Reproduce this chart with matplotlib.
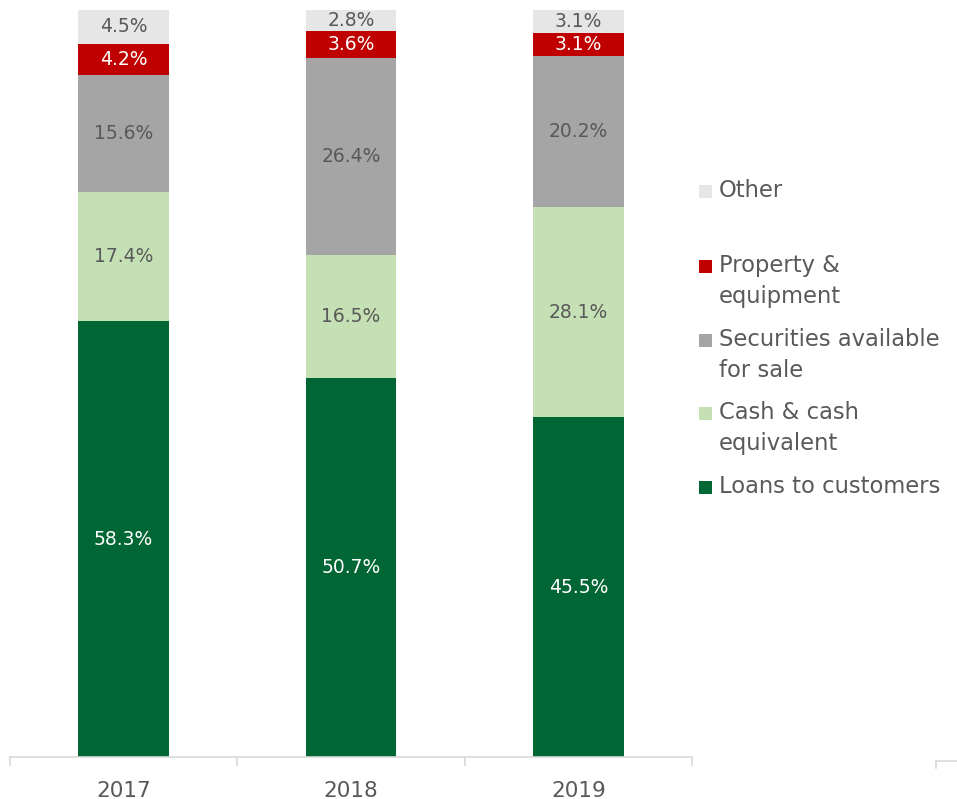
import matplotlib
matplotlib.use("Agg")
import matplotlib.pyplot as plt
from matplotlib.patches import Rectangle
from matplotlib.lines import Line2D
import numpy as np

plt.rcParams['font.family'] = ['DejaVu Sans']

years = ["2017", "2018", "2019"]
series_names = ["Loans to customers", "Cash & cash\nequivalent", "Securities available\nfor sale",
                "Property &\nequipment", "Other"]
loans = [58.3, 50.7, 45.5]
cash = [17.4, 16.5, 28.1]
securities = [15.6, 26.4, 20.2]
property_eq = [4.2, 3.6, 3.1]
other = [4.5, 2.8, 3.1]
series_values = [loans, cash, securities, property_eq, other]
colors = ["#006633", "#C5E0B4", "#A5A5A5", "#C00000", "#E7E6E6"]
text_colors = ["white", "#595959", "#595959", "white", "#595959"]

W, H = 957, 799
fig = plt.figure(figsize=(W / 100, H / 100), dpi=100)
ax = fig.add_axes([10 / W, (H - 757) / H, (692 - 10) / W, (757 - 10) / H])

x = np.arange(len(years))
bottom = np.zeros(len(years))
for vals, col, tcol in zip(series_values, colors, text_colors):
    vals = np.array(vals)
    ax.bar(x, vals, width=0.4, bottom=bottom, color=col, edgecolor='none')
    for xi, b, v in zip(x, bottom, vals):
        ax.text(xi, b + v / 2, f"{v:.1f}%", ha='center', va='center',
                fontsize=13.5, color=tcol)
    bottom += vals

ax.set_xlim(-0.5, len(years) - 0.5)
ax.set_ylim(0, 100)
ax.set_yticks([])
for s in ['top', 'right', 'left']:
    ax.spines[s].set_visible(False)
ax.spines['bottom'].set_color('#D9D9D9')
ax.spines['bottom'].set_linewidth(1.2)
ax.set_xticks(x)
ax.set_xticklabels(years, fontsize=15.5, color='#595959')
ax.tick_params(axis='x', which='major', length=0, pad=17)
ax.set_xticks(np.arange(-0.5, len(years), 1.0), minor=True)
ax.tick_params(axis='x', which='minor', length=6.5, color='#D9D9D9', width=1.2)

# Manual legend (reverse order, top = Other)
legend_y = {"Other": 191, "Property &\nequipment": 266, "Securities available\nfor sale": 340,
            "Cash & cash\nequivalent": 413, "Loans to customers": 487}
for name, col in zip(series_names, colors):
    yc = legend_y[name]
    fig.patches.append(Rectangle((699 / W, (H - yc - 6.5) / H), 13 / W, 13 / H,
                                 transform=fig.transFigure, facecolor=col, edgecolor='none'))
    fig.text(719 / W, (H - yc + 12) / H, name, ha='left', va='top', fontsize=16.3,
             color='#595959', linespacing=1.45)

# small corner mark at bottom right
fig.add_artist(Line2D([935.5 / W, 935.5 / W], [(H - 768) / H, (H - 761) / H],
                      transform=fig.transFigure, color='#D9D9D9', lw=1.2))
fig.add_artist(Line2D([935.5 / W, 957 / W], [(H - 761) / H, (H - 761) / H],
                      transform=fig.transFigure, color='#D9D9D9', lw=1.2))

fig.savefig("out.png", dpi=100)
